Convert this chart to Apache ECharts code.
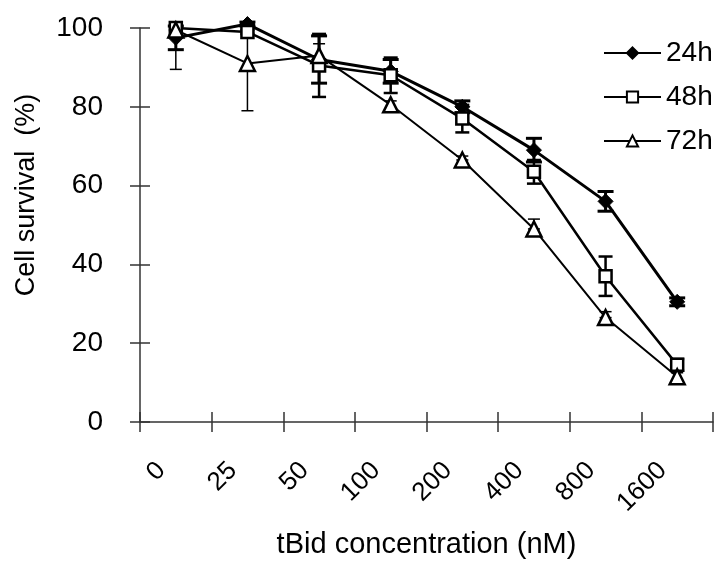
<!DOCTYPE html>
<html>
<head>
<meta charset="utf-8">
<script src="https://cdn.jsdelivr.net/npm/echarts@6/dist/echarts.min.js"></script>
<style>html,body{margin:0;padding:0;background:#fff;}#chart{width:721px;height:567px;}</style>
</head>
<body>
<div id="chart"></div>
<script>
const categories = ['0', '25', '50', '100', '200', '400', '800', '1600'];
const yTicks = [0, 20, 40, 60, 80, 100];
const seriesNames = ['24h', '48h', '72h'];
const s24 = [97.5, 101, 92, 89, 80, 69, 56, 30.5];
const e24Up = [3, 0.5, 6, 3, 1.5, 3, 2.5, 1];
const e24Down = [3, 0.5, 6, 3, 1.5, 3, 2.5, 1];
const s48 = [100, 99, 90.5, 88, 77, 63.5, 37, 14.5];
const e48Up = [0.5, 0.5, 8, 4.5, 3.5, 3, 5, 1.5];
const e48Down = [0.5, 0.5, 8, 4.5, 3.5, 3, 5, 1.5];
const s72 = [99.5, 91, 93, 80.5, 66.5, 49, 26.5, 11.5];
const e72Up = [0, 9, 3, 1, 1, 2.5, 1.5, 1];
const e72Down = [10, 12, 3, 1, 0, 0, 0, 1];

const FONT = 'Liberation Sans';
const chart = echarts.init(document.getElementById('chart'));

function errSeries(vals, up, down, lw, cap) {
  return {
    type: 'custom',
    xAxisIndex: 0, yAxisIndex: 0,
    silent: true,
    clip: false,
    z: 1,
    data: vals.map((v, i) => [i, v - down[i], v + up[i]]),
    encode: { x: 0, y: [1, 2] },
    renderItem: function (params, api) {
      const x = api.value(0);
      const lo = api.coord([x, api.value(1)]);
      const hi = api.coord([x, api.value(2)]);
      const hw = cap / 2;
      const st = { stroke: '#000', lineWidth: lw };
      return {
        type: 'group',
        children: [
          { type: 'line', shape: { x1: lo[0], y1: lo[1], x2: hi[0], y2: hi[1] }, style: st },
          { type: 'line', shape: { x1: lo[0] - hw, y1: lo[1], x2: lo[0] + hw, y2: lo[1] }, style: st },
          { type: 'line', shape: { x1: hi[0] - hw, y1: hi[1], x2: hi[0] + hw, y2: hi[1] }, style: st }
        ]
      };
    }
  };
}

const axisLineStyle = { color: '#333', width: 1.5 };

chart.setOption({
  animation: false,
  backgroundColor: '#fff',
  grid: { left: 140, right: 8, top: 28, bottom: 145, containLabel: false, outerBoundsMode: 'none' },
  legend: {
    orient: 'vertical',
    left: 598,
    top: 33,
    itemWidth: 57,
    itemHeight: 14,
    itemGap: 14,
    data: seriesNames,
    textStyle: { fontFamily: FONT, fontSize: 28, color: '#000', lineHeight: 30 }
  },
  xAxis: [{
    type: 'category',
    data: categories,
    boundaryGap: true,
    position: 'bottom',
    axisLine: { show: true, lineStyle: axisLineStyle },
    axisTick: { show: true, inside: false, length: 10, alignWithLabel: false, lineStyle: axisLineStyle },
    axisLabel: { rotate: 45, margin: 30, padding: [0, 20.5, 7, 0], fontFamily: FONT, fontSize: 26, color: '#000' },
    splitLine: { show: false },
    name: 'tBid concentration (nM)',
    nameLocation: 'middle',
    nameGap: 108,
    nameTextStyle: { fontFamily: FONT, fontSize: 29, color: '#000' }
  }, {
    type: 'category',
    data: categories,
    boundaryGap: true,
    position: 'bottom',
    axisLine: { show: false },
    axisTick: { show: true, inside: true, length: 10, lineStyle: axisLineStyle },
    axisLabel: { show: false },
    splitLine: { show: false }
  }],
  yAxis: [{
    type: 'value',
    min: 0, max: 100, interval: 20,
    position: 'left',
    axisLine: { show: true, lineStyle: axisLineStyle },
    axisTick: { show: true, inside: false, length: 10, lineStyle: axisLineStyle },
    axisLabel: { margin: 37, fontFamily: FONT, fontSize: 28, color: '#000',
      formatter: v => yTicks.indexOf(v) >= 0 ? String(v) : '' },
    splitLine: { show: false },
    name: 'Cell survival  (%)',
    nameLocation: 'middle',
    nameGap: 100,
    nameTextStyle: { fontFamily: FONT, fontSize: 27, color: '#000', padding: [0, 0, 0, 60] }
  }, {
    type: 'value',
    min: 0, max: 100, interval: 20,
    position: 'left',
    axisLine: { show: false },
    axisTick: { show: true, inside: true, length: 10, lineStyle: axisLineStyle },
    axisLabel: { show: false },
    splitLine: { show: false }
  }],
  series: [
    errSeries(s24, e24Up, e24Down, 3, 16),
    errSeries(s48, e48Up, e48Down, 2.5, 14),
    errSeries(s72, e72Up, e72Down, 1.5, 12),
    {
      name: '24h', type: 'line', data: s24, clip: false, z: 3,
      symbol: 'diamond', symbolSize: 15,
      lineStyle: { color: '#000', width: 3 },
      itemStyle: { color: '#000', borderColor: '#000', borderWidth: 1 }
    },
    {
      name: '48h', type: 'line', data: s48, clip: false, z: 4,
      symbol: 'rect', symbolSize: 12,
      lineStyle: { color: '#000', width: 2.5 },
      itemStyle: { color: '#fff', borderColor: '#000', borderWidth: 2.5 }
    },
    {
      name: '72h', type: 'line', data: s72, clip: false, z: 5,
      symbol: 'triangle', symbolSize: 15,
      lineStyle: { color: '#000', width: 2 },
      itemStyle: { color: '#fff', borderColor: '#000', borderWidth: 2.5 }
    }
  ]
});
</script>
</body>
</html>
